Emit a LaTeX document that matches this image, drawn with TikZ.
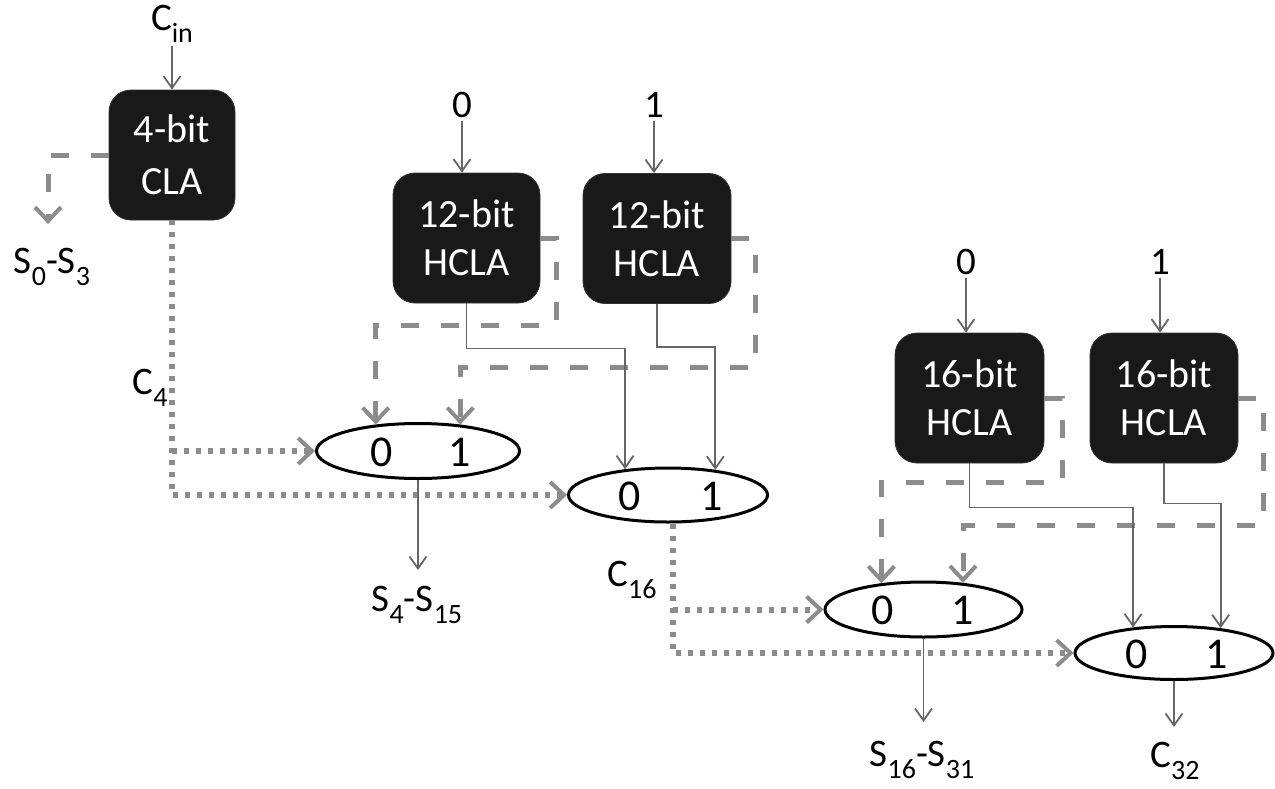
\documentclass[tikz,border=0pt]{standalone}
\usepackage{fontspec}
\setmainfont{Carlito}
\usetikzlibrary{arrows.meta,shapes.geometric,calc}
\newcommand\sbs[1]{\raisebox{-0.3em}{\fontsize{14}{14}\selectfont #1}}
\begin{document}
\begin{tikzpicture}[x=0.5pt,y=-0.5pt,
  lbl/.style={font=\fontsize{19.5}{22}\selectfont, inner sep=1.5pt, text=black},
  muxlbl/.style={font=\fontsize{22}{24}\selectfont, inner sep=1.5pt, text=black},
  blkbox/.style={fill=black!90, draw=black!80, rounded corners=11pt, text=white, align=center,
    font=\fontsize{20}{24}\selectfont, minimum width=#1, minimum height=65pt, inner sep=0pt},
  mux/.style={ellipse, draw=black, line width=1.5pt, fill=white, inner sep=0pt},
  sig/.style={draw=black!60, line width=0.9pt, -{Straight Barb[length=6pt,width=8.5pt]}},
  dsig/.style={draw=black!45, line width=2.5pt, dash pattern=on 9pt off 11pt,
    -{Straight Barb[length=7pt,width=13pt,line width=2pt]}},
  osig/.style={draw=black!45, line width=3pt, dash pattern=on 2.5pt off 3.5pt,
    -{Straight Barb[length=7pt,width=13pt,line width=2pt]}},
]
\useasboundingbox (0,0) rectangle (1275,788);

% blocks
\node[blkbox=63pt, font=\fontsize{20}{26}\selectfont] (cla) at (172,155) {4-bit\\CLA};
\node[blkbox=73.5pt] (h12a) at (466.5,238) {12-bit\\HCLA};
\node[blkbox=74pt] (h12b) at (657,238.5) {12-bit\\HCLA};
\node[blkbox=74.5pt] (h16a) at (969.5,398) {16-bit\\HCLA};
\node[blkbox=74pt] (h16b) at (1164,398) {16-bit\\HCLA};

% multiplexers
\node[mux, minimum width=101.5pt, minimum height=27.5pt] (m1) at (418,451) {};
\node[mux, minimum width=99.5pt, minimum height=27pt] (m2) at (668,495) {};
\node[mux, minimum width=98.5pt, minimum height=27.5pt] (m3) at (923.5,609.5) {};
\node[mux, minimum width=99pt, minimum height=26.5pt] (m4) at (1174,653) {};
\node[muxlbl] (m1a) at (382,452) {0};
\node[muxlbl] (m1b) at (460,452) {1};
\node[muxlbl] (m2a) at (630,496) {0};
\node[muxlbl] (m2b) at (712,496) {1};
\node[muxlbl] (m3a) at (883,610) {0};
\node[muxlbl] (m3b) at (963,610) {1};
\node[muxlbl] (m4a) at (1137,654) {0};
\node[muxlbl] (m4b) at (1217,654) {1};

% labels
\node[lbl] (cin) at (172,24) {C\sbs{in}};
\node[lbl] (s03) at (52,267) {S\sbs{0}-S\sbs{3}};
\node[lbl] (c4) at (150,388) {C\sbs{4}};
\node[lbl] (i0a) at (462,105) {0};
\node[lbl] (i1a) at (654,105) {1};
\node[lbl] (i0b) at (966,262) {0};
\node[lbl] (i1b) at (1160,262) {1};
\node[lbl] (s415) at (417,605) {S\sbs{4}-S\sbs{15}};
\node[lbl] (c16) at (632,580) {C\sbs{16}};
\node[lbl] (s1631) at (922,760) {S\sbs{16}-S\sbs{31}};
\node[lbl] (c32) at (1175,761) {C\sbs{32}};

\coordinate (s03tip) at (48,224);
\coordinate (o1) at (418,570);
\coordinate (o3) at (923.5,722);
\coordinate (o4) at (1174,727);

% 4-bit CLA
\draw[sig] (cin.south) -- (cin.south |- cla.north);
\draw[dsig] (cla.west) -| (s03tip);
\draw[osig] (cla.south) |- (m2.west);
\draw[osig] (cla.south |- m1.west) -- (m1.west);

% 12-bit HCLAs
\draw[sig] (i0a.south) -- (i0a.south |- h12a.north);
\draw[sig] (i1a.south) -- (i1a.south |- h12b.north);
\draw[dsig] (h12a.east) -| ++(16,87) -| (m1.148.4);
\draw[dsig] (h12b.east) -| ++(24,129) -| (m1.32.3);
\draw[sig] (h12a.south) -- ++(0,45) -| (m2.149);
\draw[sig] (h12b.south) -- ++(0,43) -| (m2.28.8);
\draw[sig] (m1.south) -- (o1);

% carry C16
\draw[osig] ([xshift=2.5pt]m2.south) |- (m4.west);
\draw[osig] ([xshift=2.5pt]m2.south |- m3.west) -- (m3.west);

% 16-bit HCLAs
\draw[sig] (i0b.south) -- (i0b.south |- h16a.north);
\draw[sig] (i1b.south) -- (i1b.south |- h16b.north);
\draw[dsig] (h16a.east) -| ++(18,84) -| (m3.148.2);
\draw[dsig] (h16b.east) -| ++(25,127) -| (m3.34.1);
\draw[sig] (h16a.south) -- ++(0,44) -| (m4.148.8);
\draw[sig] (h16b.south) -- ++(0,40) -| (m4.28.3);
\draw[sig] (m3.south) -- (o3);
\draw[sig] (m4.south) -- (o4);
\end{tikzpicture}
\end{document}
